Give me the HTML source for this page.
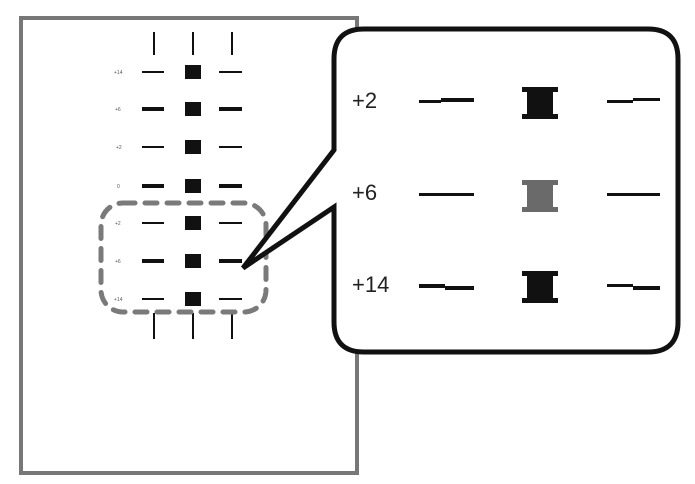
<!DOCTYPE html>
<html><head><style>html,body{margin:0;padding:0;background:#fff;}svg{display:block}</style></head>
<body>
<svg width="695" height="484" viewBox="0 0 695 484" xmlns="http://www.w3.org/2000/svg">
<rect x="21" y="18" width="336" height="455" fill="#fff" stroke="#777" stroke-width="4"/>
<g stroke="#111" stroke-width="2">
<line x1="154" y1="32" x2="154" y2="55"/><line x1="193" y1="32" x2="193" y2="55"/><line x1="232" y1="32" x2="232" y2="55"/>
<line x1="154" y1="313" x2="154" y2="339"/><line x1="193" y1="313" x2="193" y2="339"/><line x1="232" y1="313" x2="232" y2="339"/>
</g>
<g fill="#111">
<rect x="142" y="71" width="22" height="2"/><rect x="219" y="71" width="23" height="2"/><rect x="185" y="65" width="16" height="14"/>
<rect x="142" y="107" width="22" height="4"/><rect x="219" y="107" width="23" height="4"/><rect x="185" y="102" width="16" height="14"/>
<rect x="142" y="146" width="22" height="2"/><rect x="219" y="146" width="23" height="2"/><rect x="185" y="140" width="16" height="14"/>
<rect x="142" y="184" width="22" height="4"/><rect x="219" y="184" width="23" height="4"/><rect x="185" y="179" width="16" height="14"/>
<rect x="142" y="222" width="22" height="2"/><rect x="219" y="222" width="23" height="2"/><rect x="185" y="216" width="16" height="14"/>
<rect x="142" y="259" width="22" height="4"/><rect x="219" y="259" width="23" height="4"/><rect x="185" y="254" width="16" height="14"/>
<rect x="142" y="298" width="22" height="2"/><rect x="219" y="298" width="23" height="2"/><rect x="185" y="292" width="16" height="14"/>
</g>
<g fill="#555" font-family="Liberation Sans, sans-serif" font-size="5">
<text x="114" y="74">+14</text><text x="115" y="111">+6</text><text x="116" y="149">+2</text><text x="117" y="188">0</text>
<text x="115" y="225">+2</text><text x="115" y="263">+6</text><text x="114" y="301">+14</text>
</g>
<rect x="101" y="203" width="165" height="109" rx="22" fill="none" stroke="#7a7a7a" stroke-width="5" stroke-dasharray="12 10" stroke-linecap="round"/>
<path d="M364 29 H648 Q678 29 678 59 V322 Q678 352 648 352 H364 Q334 352 334 322 V207 L243 268 L334 150 V59 Q334 29 364 29 Z" fill="#fff" stroke="#111" stroke-width="5" stroke-linejoin="miter"/>
<g font-family="Liberation Sans, sans-serif" font-size="22" fill="#222">
<text x="352" y="108">+2</text><text x="352" y="200">+6</text><text x="352" y="292">+14</text>
</g>
<g fill="#111">
<rect x="419" y="100" width="22" height="3"/><rect x="441" y="98" width="33" height="4"/>
<rect x="607" y="100" width="26" height="3"/><rect x="633" y="98" width="27" height="3"/>
<path d="M522 87 H558 V92 H553 V114 H558 V119 H522 V114 H527 V92 H522 Z"/>
<rect x="419" y="193" width="55" height="3"/><rect x="607" y="193" width="53" height="3"/>
<rect x="419" y="284" width="26" height="4"/><rect x="445" y="286" width="29" height="4"/>
<rect x="607" y="284" width="26" height="3"/><rect x="633" y="286" width="27" height="4"/>
<path d="M522 271 H558 V276 H553 V298 H558 V303 H522 V298 H527 V276 H522 Z"/>
</g>
<path d="M522 180 H558 V185 H553 V207 H558 V212 H522 V207 H527 V185 H522 Z" fill="#6a6a6a"/>
</svg>
</body></html>
